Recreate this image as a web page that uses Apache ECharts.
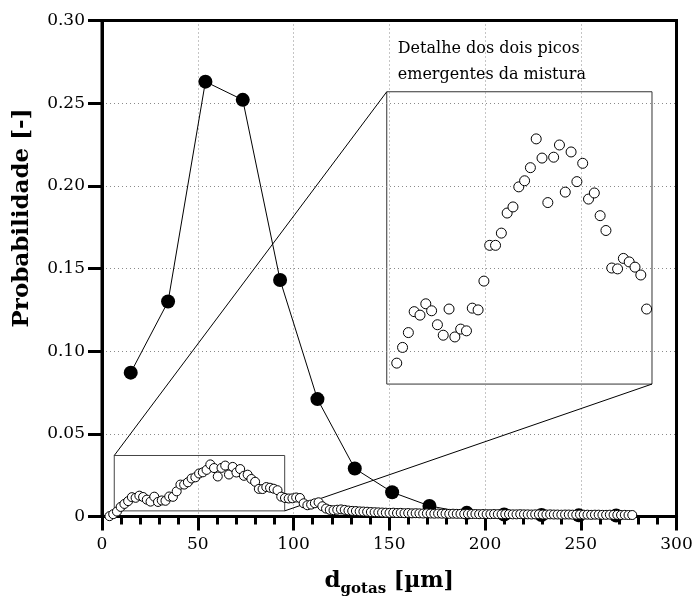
<!DOCTYPE html>
<html>
<head>
<meta charset="utf-8">
<script src="https://cdn.jsdelivr.net/npm/echarts@6/dist/echarts.min.js"></script>
<style>
  html, body { margin: 0; padding: 0; background: #fff; }
  #chart { width: 694px; height: 596px; }
</style>
</head>
<body>
<div id="chart"></div>
<script>
// Coarse droplet-size classes (filled markers joined by a line)
const coarseDiameter = [15, 34.5, 54, 73.5, 93, 112.5, 132, 151.5, 171, 190.5, 210, 229.5, 249, 268.5];
const coarseProb = [0.087, 0.130, 0.263, 0.252, 0.143, 0.071, 0.029, 0.0147, 0.0064, 0.0022, 0.0012, 0.0009, 0.0007, 0.0006];

// Fine droplet-size classes (open markers)
const fineDiameter = [
  3.90, 5.85, 7.80, 9.75, 11.70, 13.65, 15.60, 17.55, 19.50, 21.45,
  23.40, 25.35, 27.30, 29.25, 31.20, 33.15, 35.10, 37.05, 39.00, 40.95,
  42.90, 44.85, 46.80, 48.75, 50.70, 52.65, 54.60, 56.55, 58.50, 60.45,
  62.40, 64.35, 66.30, 68.25, 70.20, 72.15, 74.10, 76.05, 78.00, 79.95,
  81.90, 83.85, 85.80, 87.75, 89.70, 91.65, 93.60, 95.55, 97.50, 99.45,
  101.40, 103.35, 105.30, 107.25, 109.20, 111.15, 113.10, 115.05, 117.00, 118.95,
  120.90, 122.85, 124.80, 126.75, 128.70, 130.65, 132.60, 134.55, 136.50, 138.45,
  140.40, 142.35, 144.30, 146.25, 148.20, 150.15, 152.10, 154.05, 156.00, 157.95,
  159.90, 161.85, 163.80, 165.75, 167.70, 169.65, 171.60, 173.55, 175.50, 177.45,
  179.40, 181.35, 183.30, 185.25, 187.20, 189.15, 191.10, 193.05, 195.00, 196.95,
  198.90, 200.85, 202.80, 204.75, 206.70, 208.65, 210.60, 212.55, 214.50, 216.45,
  218.40, 220.35, 222.30, 224.25, 226.20, 228.15, 230.10, 232.05, 234.00, 235.95,
  237.90, 239.85, 241.80, 243.75, 245.70, 247.65, 249.60, 251.55, 253.50, 255.45,
  257.40, 259.35, 261.30, 263.25, 265.20, 267.15, 269.10, 271.05, 273.00, 274.95,
  276.90
];
const fineProb = [
  0.0002, 0.0014, 0.0030, 0.0058, 0.0076, 0.0093, 0.0117, 0.0113, 0.0126, 0.0118,
  0.0102, 0.0090, 0.0120, 0.0088, 0.0097, 0.0095, 0.0121, 0.0119, 0.0152, 0.0193,
  0.0193, 0.0207, 0.0230, 0.0237, 0.0260, 0.0267, 0.0282, 0.0315, 0.0293, 0.0242,
  0.0294, 0.0308, 0.0254, 0.0300, 0.0266, 0.0287, 0.0246, 0.0253, 0.0227, 0.0210,
  0.0167, 0.0166, 0.0178, 0.0174, 0.0168, 0.0159, 0.0120, 0.0112, 0.0109, 0.0110,
  0.0115, 0.0112, 0.0080, 0.0068, 0.0072, 0.0080, 0.0086, 0.0062, 0.0048, 0.0040,
  0.0038, 0.0041, 0.0043, 0.0040, 0.0036, 0.0034, 0.0033, 0.0031, 0.0030, 0.0029,
  0.0027, 0.0026, 0.0025, 0.0024, 0.0023, 0.0022, 0.0023, 0.0021, 0.0022, 0.0020,
  0.0021, 0.0019, 0.0020, 0.0019, 0.0018, 0.0019, 0.0018, 0.0017, 0.0018, 0.0017,
  0.0017, 0.0016, 0.0017, 0.0016, 0.0016, 0.0015, 0.0016, 0.0015, 0.0015, 0.0014,
  0.0015, 0.0014, 0.0014, 0.0015, 0.0014, 0.0013, 0.0014, 0.0014, 0.0013, 0.0013,
  0.0014, 0.0013, 0.0013, 0.0012, 0.0013, 0.0013, 0.0012, 0.0012, 0.0013, 0.0012,
  0.0012, 0.0011, 0.0012, 0.0012, 0.0011, 0.0011, 0.0012, 0.0011, 0.0011, 0.0010,
  0.0011, 0.0011, 0.0010, 0.0010, 0.0011, 0.0010, 0.0010, 0.0009, 0.0010, 0.0009,
  0.0009
];

// Axis ranges
const xRange = [0, 300];
const yRange = [0, 0.30];
const xStep = 50;
const yStep = 0.05;

// Region that is magnified, and where the magnified frame sits (both in main axis units)
const zoomX = [6.4, 95.4];
const zoomY = [0.0034, 0.0369];
const frameX = [148.7, 287.2];
const frameY = [0.0801, 0.2569];

const captionLines = ['Detalhe dos dois picos', 'emergentes da mistura'];

// Main plotting area in pixels
const plot = { left: 102, top: 20.5, width: 574.5, height: 496 };
const FONT = '"DejaVu Serif", serif';

function px(x) { return plot.left + (x - xRange[0]) / (xRange[1] - xRange[0]) * plot.width; }
function py(y) { return plot.top + plot.height - (y - yRange[0]) / (yRange[1] - yRange[0]) * plot.height; }

const insetRect = {
  left: px(frameX[0]),
  top: py(frameY[1]),
  width: px(frameX[1]) - px(frameX[0]),
  height: py(frameY[0]) - py(frameY[1])
};

const pairs = (xs, ys) => xs.map((x, i) => [x, ys[i]]);
const fineData = pairs(fineDiameter, fineProb);
const insetData = fineData.filter(d => d[0] > zoomX[0] && d[0] < zoomX[1] && d[1] > zoomY[0] && d[1] < zoomY[1]);

const chart = echarts.init(document.getElementById('chart'), null, { renderer: 'canvas' });

const dotted = { type: [1, 3], color: '#8a8a8a', width: 1 };

chart.setOption({
  animation: false,
  backgroundColor: '#fff',
  grid: [
    { left: plot.left, top: plot.top, width: plot.width, height: plot.height,
      containLabel: false, outerBoundsMode: 'none',
      show: true, borderColor: '#000', borderWidth: 3, backgroundColor: 'transparent', z: 1 },
    { left: insetRect.left, top: insetRect.top, width: insetRect.width, height: insetRect.height,
      containLabel: false, outerBoundsMode: 'none',
      show: true, borderColor: '#333', borderWidth: 1, backgroundColor: 'transparent' }
  ],
  xAxis: [
    {
      gridIndex: 0, type: 'value', min: xRange[0], max: xRange[1], interval: xStep,
      axisLine: { show: true, onZero: false, lineStyle: { color: '#000', width: 3 } },
      axisTick: { show: true, inside: false, length: 14, lineStyle: { color: '#000', width: 3 } },
      minorTick: { show: true, splitNumber: 5, length: 8, lineStyle: { color: '#000', width: 3 } },
      splitLine: { show: true, lineStyle: dotted },
      axisLabel: { color: '#000', fontFamily: FONT, fontSize: 17, margin: 20 },
      name: '{d|d}{s|gotas}{b| [µm]}',
      nameLocation: 'middle',
      nameGap: 50,
      nameTextStyle: {
        rich: {
          d: { fontFamily: FONT, fontWeight: 'bold', fontSize: 23, lineHeight: 30, verticalAlign: 'middle', color: '#000' },
          s: { fontFamily: FONT, fontWeight: 'bold', fontSize: 15, lineHeight: 30, verticalAlign: 'bottom', color: '#000' },
          b: { fontFamily: FONT, fontWeight: 'bold', fontSize: 22, lineHeight: 30, verticalAlign: 'middle', color: '#000' }
        }
      }
    },
    {
      gridIndex: 1, type: 'value', min: zoomX[0], max: zoomX[1],
      axisLine: { show: false }, axisTick: { show: false }, axisLabel: { show: false }, splitLine: { show: false }
    }
  ],
  yAxis: [
    {
      gridIndex: 0, type: 'value', min: yRange[0], max: yRange[1], interval: yStep,
      axisLine: { show: true, onZero: false, lineStyle: { color: '#000', width: 3 } },
      axisTick: { show: true, inside: false, length: 14, lineStyle: { color: '#000', width: 3 } },
      splitLine: { show: true, lineStyle: dotted },
      axisLabel: {
        color: '#000', fontFamily: FONT, fontSize: 17, margin: 17,
        formatter: v => (v === 0 ? '0' : v.toFixed(2))
      }
    },
    {
      gridIndex: 1, type: 'value', min: zoomY[0], max: zoomY[1],
      axisLine: { show: false }, axisTick: { show: false }, axisLabel: { show: false }, splitLine: { show: false }
    }
  ],
  series: [
    {
      // outline of the magnified region
      type: 'line', xAxisIndex: 0, yAxisIndex: 0, symbol: 'none', silent: true, z: 3,
      lineStyle: { color: '#444', width: 1 },
      data: [[zoomX[0], zoomY[0]], [zoomX[1], zoomY[0]], [zoomX[1], zoomY[1]], [zoomX[0], zoomY[1]], [zoomX[0], zoomY[0]]]
    },
    {
      type: 'line', xAxisIndex: 0, yAxisIndex: 0, symbol: 'none', silent: true, z: 3,
      lineStyle: { color: '#000', width: 1 },
      data: [[zoomX[0], zoomY[1]], [frameX[0], frameY[1]]]
    },
    {
      type: 'line', xAxisIndex: 0, yAxisIndex: 0, symbol: 'none', silent: true, z: 3,
      lineStyle: { color: '#000', width: 1 },
      data: [[zoomX[1], zoomY[0]], [frameX[1], frameY[0]]]
    },
    {
      name: 'coarse', type: 'line', xAxisIndex: 0, yAxisIndex: 0, z: 4,
      symbol: 'circle', symbolSize: 14,
      itemStyle: { color: '#000' },
      lineStyle: { color: '#000', width: 1 },
      data: pairs(coarseDiameter, coarseProb)
    },
    {
      name: 'fine', type: 'scatter', xAxisIndex: 0, yAxisIndex: 0, z: 5, clip: false,
      symbol: 'circle', symbolSize: 9,
      itemStyle: { color: '#fff', borderColor: '#000', borderWidth: 1, opacity: 1 },
      data: fineData
    },
    {
      name: 'fine-inset', type: 'scatter', xAxisIndex: 1, yAxisIndex: 1, z: 5, clip: false,
      symbol: 'circle', symbolSize: 10,
      itemStyle: { color: '#fff', borderColor: '#000', borderWidth: 1, opacity: 1 },
      data: insetData
    }
  ],
  graphic: [
    {
      type: 'text', x: 22, y: 218, rotation: Math.PI / 2,
      style: {
        text: 'Probabilidade [-]', fill: '#000',
        font: 'bold 23px "DejaVu Serif", serif',
        align: 'center', verticalAlign: 'middle'
      }
    },
    {
      type: 'text', x: px(frameX[0]) + 11, y: 36,
      style: {
        text: captionLines.join('\n'), fill: '#000',
        font: '16px "DejaVu Serif", serif', lineHeight: 26,
        align: 'left', verticalAlign: 'top'
      }
    }
  ]
});
</script>
</body>
</html>
